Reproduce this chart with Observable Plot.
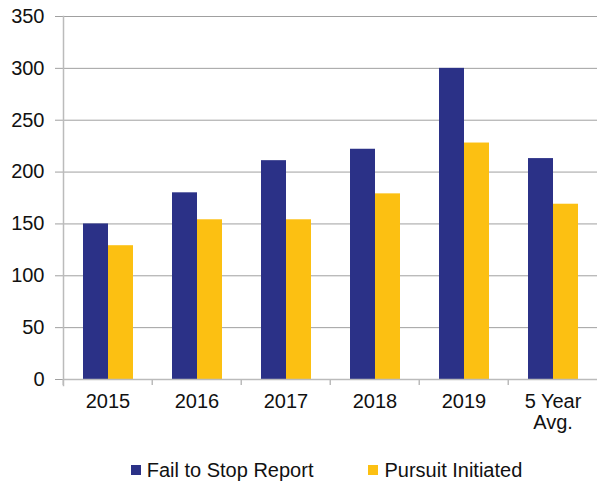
<!DOCTYPE html>
<html>
<head>
<meta charset="utf-8">
<script src="https://cdn.jsdelivr.net/npm/d3@7"></script>
<script src="https://cdn.jsdelivr.net/npm/@observablehq/plot@0.6"></script>
<style>
  html, body { margin: 0; padding: 0; background: #fff; overflow: hidden; }
  body { width: 598px; height: 483px; font-family: "Liberation Sans", Arial, sans-serif; }
  #legend { display: flex; justify-content: center; align-items: center; gap: 55px;
            margin-top: 15px; padding-left: 55px; font-size: 20px; line-height: 20px; color: #111; }
  .item { display: flex; align-items: center; }
  .sw { width: 10px; height: 10px; margin-right: 6px; }
</style>
</head>
<body>
<div id="chart"></div>
<div id="legend"></div>
<script>
const categories = ["2015", "2016", "2017", "2018", "2019", "5 Year Avg."];
const seriesNames = ["Fail to Stop Report", "Pursuit Initiated"];
const failToStop = [150, 180, 211, 222, 300, 213];
const pursuitInitiated = [129, 154, 154, 179, 228, 169];
const yTicks = [0, 50, 100, 150, 200, 250, 300, 350];
const colors = ["#2b3187", "#fcc012"];

const rows = [];
categories.forEach((c, i) => {
  rows.push({category: c, series: seriesNames[0], value: failToStop[i]});
  rows.push({category: c, series: seriesNames[1], value: pursuitInitiated[i]});
});

const W = 598, ML = 61, MR = 0;
const halfBand = (W - ML - MR) / categories.length / 2;
const font = "'Liberation Sans', Arial, sans-serif";

const chart = Plot.plot({
  width: W,
  height: 445,
  marginTop: 16,
  marginLeft: ML,
  marginRight: MR,
  marginBottom: 66,
  style: {fontFamily: font, fontSize: "20px", color: "#111", background: "#fff"},
  fx: {domain: categories, padding: 0, label: null, axis: null},
  x: {domain: seriesNames, paddingInner: 0, paddingOuter: 0.74, axis: null},
  y: {domain: [0, 350], label: null, axis: null},
  color: {domain: seriesNames, range: colors},
  marks: [
    Plot.gridY(yTicks, {stroke: "#a0a0a0", strokeOpacity: 1, strokeWidth: 1}),
    Plot.axisY(yTicks, {tickSize: 8, tickPadding: 11, stroke: "#a0a0a0", label: null, fontSize: 20, fill: "#111"}),
    Plot.barY(rows, {fx: "category", x: "series", y: "value", fill: "series"}),
    Plot.ruleY([0], {stroke: "#bbb", strokeWidth: 1.5}),
    Plot.frame({anchor: "left", facetAnchor: "left", stroke: "#bbb", strokeWidth: 1.5, insetBottom: -6}),
    Plot.axisFx({anchor: "bottom", tickSize: 6, text: null, stroke: "#bbb", strokeWidth: 1.5, dx: -halfBand, label: null}),
    Plot.axisFx({anchor: "bottom", tickSize: 0, tickPadding: 14, label: null, fontSize: 20, fill: "#111",
                 tickFormat: d => d === "5 Year Avg." ? "5 Year\nAvg." : d, lineHeight: 1.05})
  ]
});
document.getElementById("chart").appendChild(chart);

const legend = document.getElementById("legend");
seriesNames.forEach((s, i) => {
  const it = document.createElement("div");
  it.className = "item";
  const sw = document.createElement("div");
  sw.className = "sw";
  sw.style.background = colors[i];
  const t = document.createElement("span");
  t.textContent = s;
  it.appendChild(sw);
  it.appendChild(t);
  legend.appendChild(it);
});
</script>
</body>
</html>
